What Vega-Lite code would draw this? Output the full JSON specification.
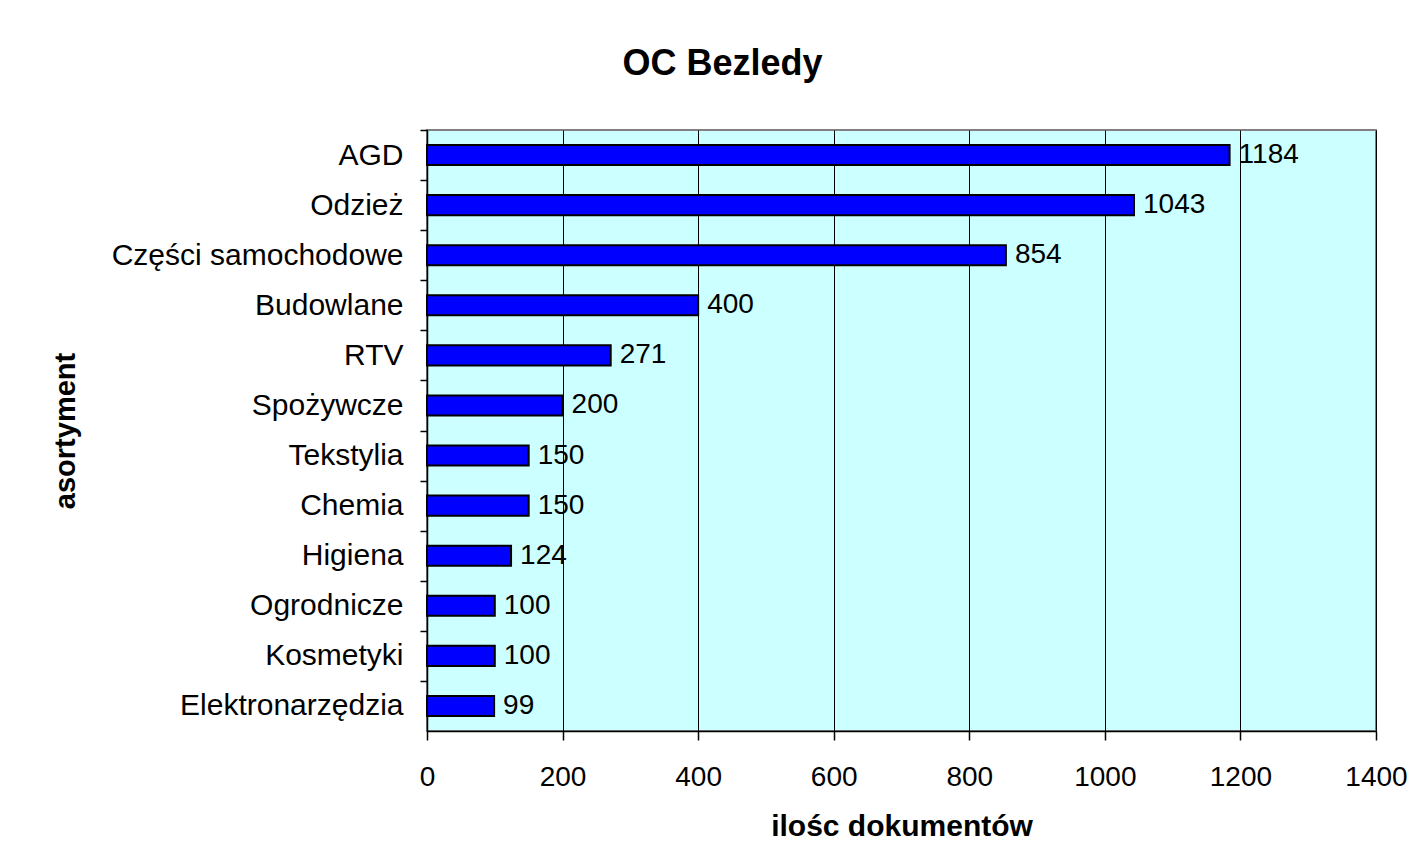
{
  "$schema": "https://vega.github.io/schema/vega-lite/v6.json",
  "width": 949,
  "height": 601,
  "autosize": {"type": "none"},
  "padding": {"left": 427, "top": 130, "right": 40, "bottom": 136},
  "background": "white",
  "title": {
    "text": "OC Bezledy",
    "font": "Liberation Sans",
    "fontSize": 36,
    "fontWeight": "bold",
    "color": "black",
    "anchor": "middle",
    "dx": -179,
    "offset": 46
  },
  "data": {
    "values": [
      {"asortyment": "AGD ", "ilosc": 1184},
      {"asortyment": "Odzież", "ilosc": 1043},
      {"asortyment": "Części samochodowe ", "ilosc": 854},
      {"asortyment": "Budowlane", "ilosc": 400},
      {"asortyment": "RTV", "ilosc": 271},
      {"asortyment": "Spożywcze", "ilosc": 200},
      {"asortyment": "Tekstylia", "ilosc": 150},
      {"asortyment": "Chemia", "ilosc": 150},
      {"asortyment": "Higiena", "ilosc": 124},
      {"asortyment": "Ogrodnicze", "ilosc": 100},
      {"asortyment": "Kosmetyki", "ilosc": 100},
      {"asortyment": "Elektronarzędzia", "ilosc": 99}
    ]
  },
  "encoding": {
    "y": {
      "field": "asortyment",
      "type": "nominal",
      "sort": ["AGD ", "Odzież", "Części samochodowe ", "Budowlane", "RTV", "Spożywcze", "Tekstylia", "Chemia", "Higiena", "Ogrodnicze", "Kosmetyki", "Elektronarzędzia"],
      "scale": {"paddingInner": 0.6, "paddingOuter": 0.3},
      "axis": {
        "title": "asortyment",
        "titleFont": "Liberation Sans",
        "titleFontSize": 29,
        "titleFontWeight": "bold",
        "titleColor": "black",
        "titleAngle": -90,
        "titleX": -362,
        "titleY": 300.5,
        "titleAlign": "center",
        "titleBaseline": "middle",
        "labelFont": "Liberation Sans",
        "labelFontSize": 30,
        "labelColor": "black",
        "labelPadding": 17,
        "labelLimit": 500,
        "tickOffset": -25.04,
        "labelOffset": 25.04,
        "tickSize": 7,
        "tickColor": "black",
        "tickWidth": 1.5,
        "domainColor": "black",
        "domainWidth": 1.5,
        "grid": false
      }
    },
    "x": {
      "field": "ilosc",
      "type": "quantitative",
      "scale": {"domain": [0, 1400], "nice": false},
      "axis": {
        "title": "ilośc dokumentów",
        "titleFont": "Liberation Sans",
        "titleFontSize": 30,
        "titleFontWeight": "bold",
        "titleColor": "black",
        "titleX": 474.5,
        "titleY": 95,
        "titleBaseline": "middle",
        "titleAlign": "center",
        "values": [0, 200, 400, 600, 800, 1000, 1200, 1400],
        "format": "d",
        "labelFont": "Liberation Sans",
        "labelFontSize": 28,
        "labelColor": "black",
        "labelPadding": 23,
        "labelFlush": false,
        "tickSize": 9,
        "tickColor": "black",
        "tickWidth": 1.5,
        "domainColor": "black",
        "domainWidth": 1.5,
        "grid": true,
        "gridColor": "black",
        "gridWidth": 1
      }
    }
  },
  "layer": [
    {
      "mark": {"type": "bar", "color": "#0000FF", "stroke": "black", "strokeWidth": 2}
    },
    {
      "mark": {"type": "text", "align": "left", "baseline": "middle", "dx": 9, "font": "Liberation Sans", "fontSize": 28, "color": "black"},
      "encoding": {"text": {"field": "ilosc", "type": "quantitative", "format": "d"}}
    }
  ],
  "config": {
    "view": {"fill": "#CCFFFF", "stroke": "#808080", "strokeWidth": 2}
  }
}
